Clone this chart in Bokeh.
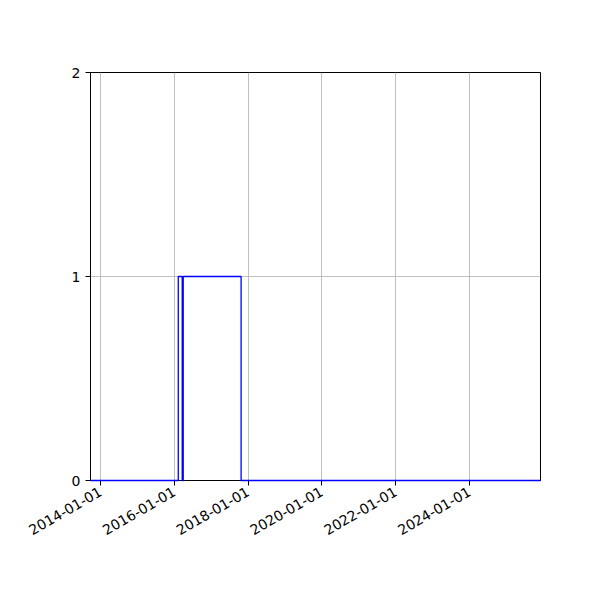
import math
from datetime import datetime

from bokeh.plotting import figure
from bokeh.models import Range1d, FixedTicker, DatetimeTickFormatter
from bokeh.embed import file_html
from bokeh.resources import INLINE

# step data: value holds from each date until the next one
dates = ["2013-09-24", "2016-02-10", "2016-03-20", "2016-03-30", "2017-10-24", "2025-12-05"]
values = [0, 1, 0, 1, 0, 0]

x_ticks = ["2014-01-01", "2016-01-01", "2018-01-01", "2020-01-01", "2022-01-01", "2024-01-01"]
y_ticks = [0, 1, 2]

x = [datetime.strptime(d, "%Y-%m-%d") for d in dates]
tick_ms = [datetime.strptime(d, "%Y-%m-%d").timestamp() * 1000 for d in x_ticks]

p = figure(x_axis_type="datetime", output_backend="svg", toolbar_location=None,
           frame_width=450, frame_height=408,
           min_border_left=90, min_border_right=44, min_border_top=72, min_border_bottom=104,
           x_range=Range1d(x[0], x[-1]), y_range=Range1d(0, 2))

p.step(x, values, mode="after", line_color="blue", line_width=1.3, level="overlay")

fmt = "%Y-%m-%d"
p.xaxis.ticker = FixedTicker(ticks=tick_ms)
p.xaxis.formatter = DatetimeTickFormatter(milliseconds=fmt, seconds=fmt, minsec=fmt, minutes=fmt,
                                          hourmin=fmt, hours=fmt, days=fmt, months=fmt, years=fmt)
p.xaxis.major_label_orientation = math.pi / 6
p.yaxis.ticker = FixedTicker(ticks=y_ticks)

for ax in (p.xaxis, p.yaxis):
    ax.major_label_text_font = "DejaVu Sans"
    ax.major_label_text_font_size = "14px"
    ax.major_label_text_color = "black"
    ax.axis_line_color = "black"
    ax.major_tick_line_color = "black"
    ax.major_tick_in = 0
    ax.major_tick_out = 5
    ax.minor_tick_line_color = None

p.grid.grid_line_color = "#b0b0b0"
p.grid.grid_line_width = 0.8
p.grid.grid_line_alpha = 1.0
p.outline_line_color = "black"
p.outline_line_width = 1
p.outline_line_alpha = 1.0

open("out.html", "w").write(file_html(p, INLINE))
